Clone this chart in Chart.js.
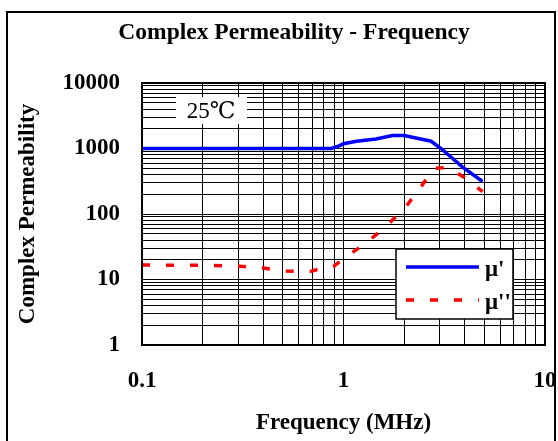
<!DOCTYPE html>
<html>
<head>
<meta charset="UTF-8">
<title>Complex Permeability - Frequency</title>
<script src="https://cdn.jsdelivr.net/npm/chart.js"></script>
<style>
  html, body { margin: 0; padding: 0; background: #fff; }
  #wrap { width: 558px; height: 441px; }
</style>
</head>
<body>
<div id="wrap"><canvas id="grafico" width="558" height="441"></canvas></div>
<script>
// dados
const freqReal = [0.1, 0.2, 0.4, 0.6, 0.87, 0.95, 1.0, 1.16, 1.45, 1.75, 2.0, 2.72, 3.05, 3.9, 4.9];
const muReal   = [1000, 1000, 1000, 1000, 1000, 1100, 1180, 1290, 1400, 1580, 1580, 1290, 1000, 520, 313];

const freqImag = [0.1, 0.2, 0.3, 0.41, 0.52, 0.68, 0.75, 0.89, 1.03, 1.29, 1.62, 2.04, 2.46, 2.8, 3.3, 4.04, 4.9];
const muImag   = [16.6, 16.5, 16, 14.8, 13.5, 13.2, 14.3, 15.7, 22.3, 35.7, 64, 129, 277, 498, 515, 350, 219];

const xTicks = [0.1, 1, 10];
const yTicks = [1, 10, 100, 1000, 10000];

const fonte = 'Liberation Serif, Times New Roman, serif';

function logGrid(min, max) {
  const vals = [];
  for (let d = Math.log10(min); d < Math.log10(max); d++) {
    const base = Math.pow(10, d);
    for (let k = 1; k <= 9; k++) vals.push(+(k * base).toPrecision(6));
  }
  vals.push(max);
  return vals;
}

function isDecade(v, lista) {
  return lista.some(t => Math.abs(t - v) / t < 1e-6);
}

const molduraPlugin = {
  id: 'moldura',
  afterDraw(chart) {
    const ctx = chart.ctx;
    const a = chart.chartArea;
    ctx.save();
    // borda externa
    ctx.strokeStyle = '#000';
    ctx.lineWidth = 2;
    ctx.strokeRect(7, 12, 548, 440);
    // borda da área do gráfico
    ctx.strokeRect(a.left, a.top, a.right - a.left, a.bottom - a.top);

    // título
    ctx.fillStyle = '#000';
    ctx.font = 'bold 23.5px ' + fonte;
    ctx.textAlign = 'center';
    ctx.textBaseline = 'middle';
    ctx.fillText('Complex Permeability - Frequency', 294, 33);

    // caixa 25℃
    ctx.fillStyle = '#fff';
    ctx.fillRect(176, 97, 71, 27);
    ctx.fillStyle = '#000';
    ctx.font = '23px Liberation Serif, DejaVu Serif, serif';
    ctx.fillText('25℃', 211, 112);

    // legenda
    ctx.fillStyle = '#fff';
    ctx.fillRect(396, 249, 117, 70);
    ctx.lineWidth = 1.5;
    ctx.strokeStyle = '#000';
    ctx.strokeRect(396, 249, 117, 70);

    ctx.lineWidth = 3.5;
    ctx.strokeStyle = '#0000ff';
    ctx.beginPath();
    ctx.moveTo(406, 267);
    ctx.lineTo(479, 267);
    ctx.stroke();

    ctx.strokeStyle = '#ff0000';
    ctx.setLineDash([8, 16]);
    ctx.beginPath();
    ctx.moveTo(406, 300);
    ctx.lineTo(479, 300);
    ctx.stroke();
    ctx.setLineDash([]);

    ctx.fillStyle = '#000';
    ctx.font = 'bold 23px ' + fonte;
    ctx.textAlign = 'left';
    ctx.fillText("μ'", 485, 270);
    ctx.fillText("μ''", 485, 303);
    ctx.restore();
  }
};

const fonteEixo = { family: fonte, size: 23, weight: 'bold' };

const ctx = document.getElementById('grafico').getContext('2d');
new Chart(ctx, {
  type: 'line',
  data: {
    datasets: [{
      label: "μ'",
      data: freqReal.map((f, i) => ({ x: f, y: muReal[i] })),
      borderColor: '#0000ff',
      borderWidth: 3.5,
      pointRadius: 0,
      tension: 0
    }, {
      label: "μ''",
      data: freqImag.map((f, i) => ({ x: f, y: muImag[i] })),
      borderColor: '#ff0000',
      borderWidth: 3.5,
      borderDash: [8, 16],
      pointRadius: 0,
      tension: 0
    }]
  },
  options: {
    responsive: false,
    animation: false,
    layout: { padding: { left: 10, right: 13, top: 83, bottom: 0 } },
    plugins: {
      legend: { display: false },
      tooltip: { enabled: false },
      title: { display: false }
    },
    scales: {
      x: {
        type: 'logarithmic',
        min: 0.1,
        max: 10,
        afterBuildTicks(scale) {
          scale.ticks = logGrid(0.1, 10).map(v => ({ value: v }));
        },
        afterFit(scale) {
          scale.height = 96;
          scale.paddingLeft = 0;
          scale.paddingRight = 0;
        },
        grid: { color: '#000', lineWidth: 1, drawTicks: false },
        border: { display: false },
        ticks: {
          autoSkip: false,
          maxRotation: 0,
          padding: 22,
          color: '#000',
          font: fonteEixo,
          callback: v => isDecade(v, xTicks) ? String(v) : ''
        },
        title: {
          display: true,
          text: 'Frequency (MHz)',
          color: '#000',
          font: fonteEixo,
          padding: { top: 0, bottom: 4 }
        }
      },
      y: {
        type: 'logarithmic',
        min: 1,
        max: 10000,
        afterBuildTicks(scale) {
          scale.ticks = logGrid(1, 10000).map(v => ({ value: v }));
        },
        afterFit(scale) {
          scale.width = 132;
          scale.paddingTop = 0;
          scale.paddingBottom = 0;
        },
        grid: { color: '#000', lineWidth: 1, drawTicks: false },
        border: { display: false },
        ticks: {
          autoSkip: false,
          padding: 22,
          color: '#000',
          font: fonteEixo,
          callback: v => isDecade(v, yTicks) ? String(v) : ''
        },
        title: {
          display: true,
          text: 'Complex Permeability',
          color: '#000',
          font: fonteEixo,
          padding: { top: 4, bottom: 0 }
        }
      }
    }
  },
  plugins: [molduraPlugin]
});
</script>
</body>
</html>
